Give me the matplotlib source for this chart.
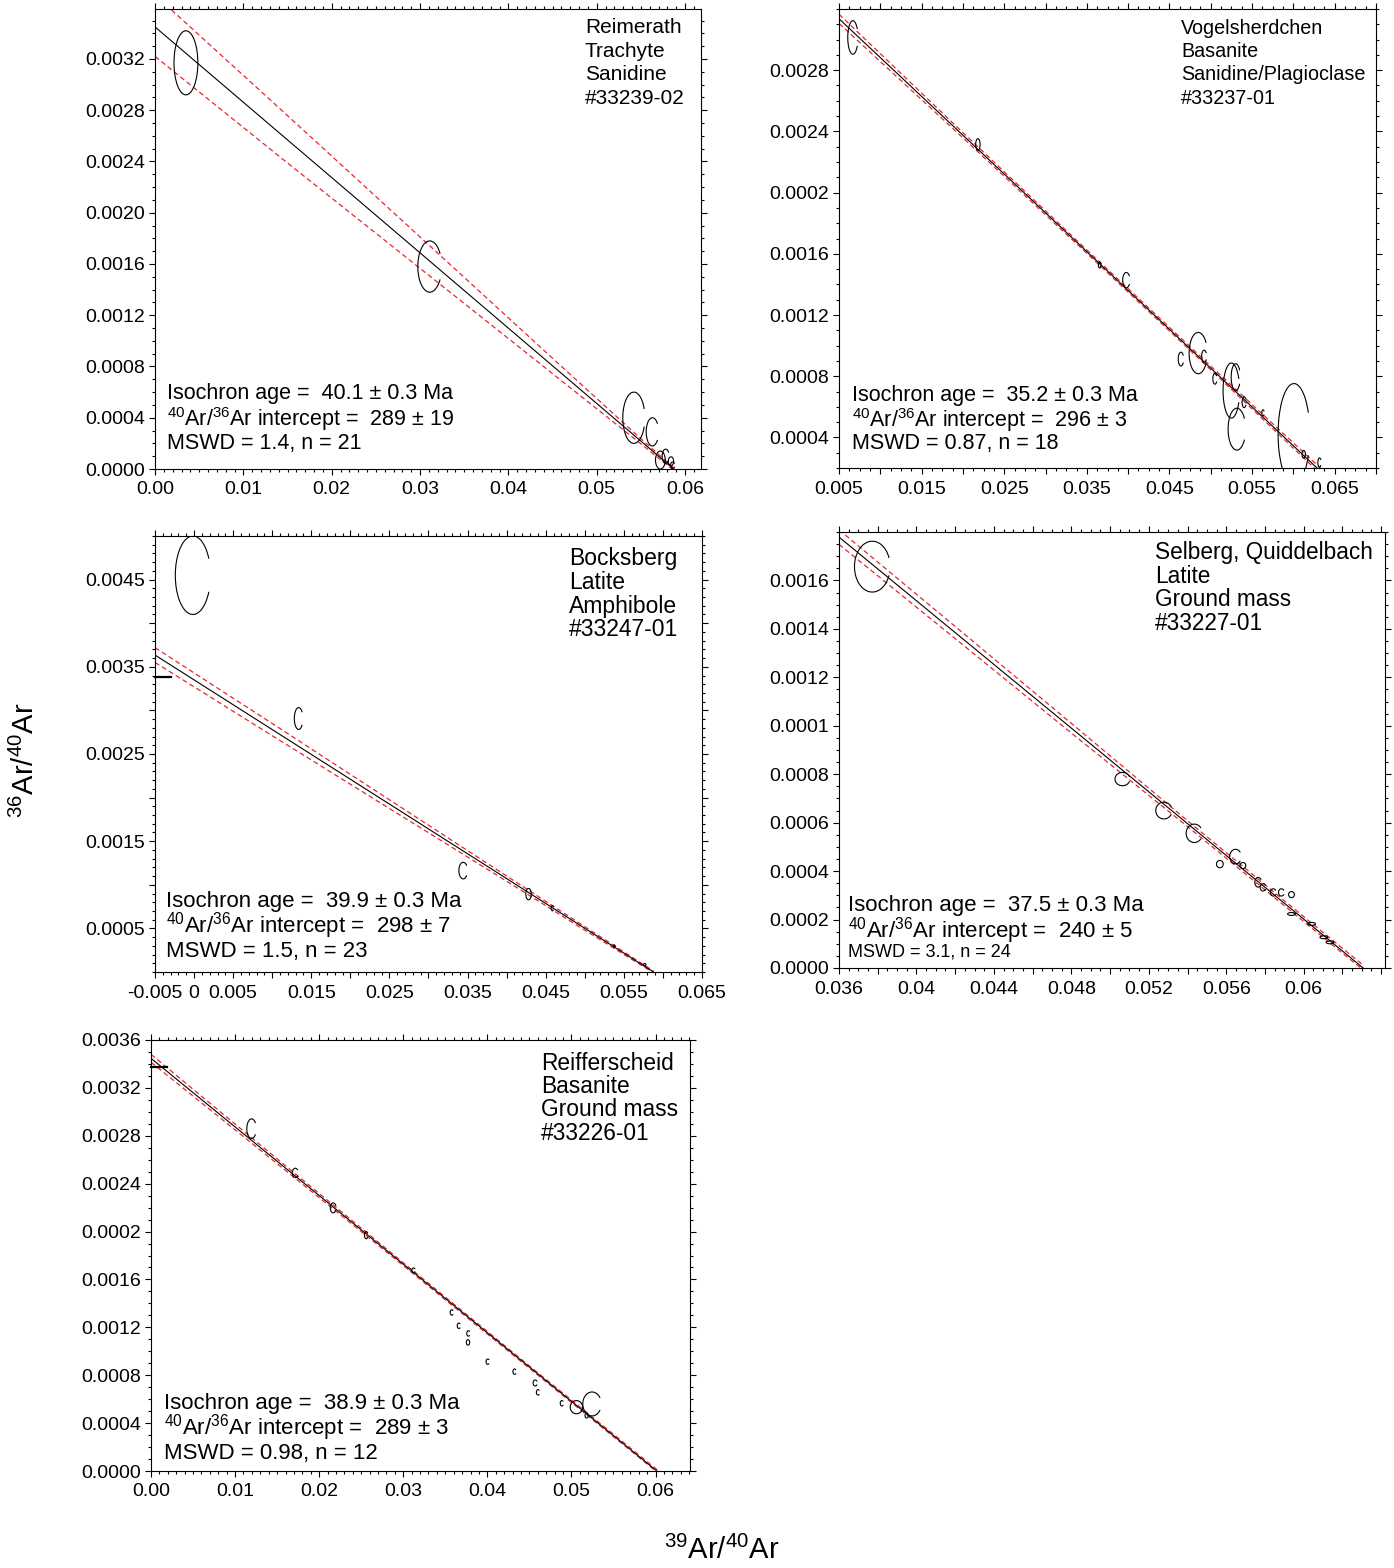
import matplotlib
matplotlib.use('Agg')
import numpy as np
import matplotlib.pyplot as plt
from matplotlib.patches import Arc
from matplotlib.ticker import FixedLocator, FixedFormatter, MultipleLocator

plt.rcParams['font.family'] = ['Liberation Sans', 'DejaVu Sans']
plt.rcParams['mathtext.fontset'] = 'custom'
plt.rcParams['mathtext.rm'] = 'Liberation Sans'
plt.rcParams['mathtext.it'] = 'Liberation Sans:italic'
plt.rcParams['mathtext.bf'] = 'Liberation Sans:bold'

W, H = 1394, 1568
RED = '#e8262a'

# ---- Reimerath, trachyte, sanidine ----
p1_name = ['Reimerath', 'Trachyte', 'Sanidine', '#33239-02']
p1_stats = ['Isochron age =  40.1 ± 0.3 Ma', '$^{40}$Ar/$^{36}$Ar intercept =  289 ± 19', 'MSWD = 1.4, n = 21']
p1_fit = (0.00345, 0.0587)          # y intercept, x intercept
p1_env_x = [0.0, 0.015, 0.03, 0.045, 0.055, 0.0587]
p1_env_hi = [0.00370, 0.002758, 0.001811, 0.000864, 0.000236, 0.00001]
p1_env_lo = [0.00322, 0.002388, 0.001566, 0.000744, 0.000196, -0.00001]
# x, y, width, height, half-opening on right (deg)
p1_ell = [(0.0035, 0.00317, 0.0027, 0.00050, 0),
          (0.0311, 0.00158, 0.0027, 0.00040, 30),
          (0.0542, 0.00040, 0.0025, 0.00040, 20),
          (0.0563, 0.00029, 0.0014, 0.00022, 35),
          (0.0572, 0.00007, 0.0011, 0.00014, 0),
          (0.0578, 0.00010, 0.0008, 0.00011, 30),
          (0.0584, 0.00006, 0.0006, 0.00007, 0),
          (0.0586, 0.00003, 0.0005, 0.00005, 30)]
p1_xticks = [0.0, 0.01, 0.02, 0.03, 0.04, 0.05, 0.06]
p1_xlabels = ['0.00', '0.01', '0.02', '0.03', '0.04', '0.05', '0.06']
p1_yticks = [0.0, 0.0004, 0.0008, 0.0012, 0.0016, 0.0020, 0.0024, 0.0028, 0.0032]
p1_ylabels = ['0.0000', '0.0004', '0.0008', '0.0012', '0.0016', '0.0020', '0.0024', '0.0028', '0.0032']

# ---- Vogelsherdchen, basanite ----
p2_name = ['Vogelsherdchen', 'Basanite', 'Sanidine/Plagioclase', '#33237-01']
p2_stats = ['Isochron age =  35.2 ± 0.3 Ma', '$^{40}$Ar/$^{36}$Ar intercept =  296 ± 3', 'MSWD = 0.87, n = 18']
p2_fit = (0.00339, 0.0668)
p2_env_x = [0.005, 0.02, 0.035, 0.05, 0.065]
p2_env_hi = [0.003166, 0.002392, 0.001625, 0.000866, 0.000113]
p2_env_lo = [0.003106, 0.002358, 0.001603, 0.000842, 0.000073]
p2_ell = [(0.00668, 0.003014, 0.00124, 0.000219, 30),
          (0.02181, 0.002314, 0.00053, 0.000077, 0),
          (0.03655, 0.001527, 0.00030, 0.000040, 0),
          (0.03978, 0.001428, 0.00088, 0.000100, 30),
          (0.04639, 0.000912, 0.00066, 0.000090, 30),
          (0.04848, 0.000951, 0.00220, 0.000270, 30),
          (0.04920, 0.000930, 0.00060, 0.000080, 30),
          (0.05050, 0.000783, 0.00050, 0.000070, 30),
          (0.05249, 0.000706, 0.00200, 0.000360, 25),
          (0.05302, 0.000794, 0.00110, 0.000175, 30),
          (0.05316, 0.000454, 0.00212, 0.000274, 30),
          (0.05404, 0.000630, 0.00050, 0.000070, 30),
          (0.05633, 0.000560, 0.00030, 0.000040, 30),
          (0.06007, 0.000422, 0.00384, 0.000660, 25),
          (0.06125, 0.000290, 0.00040, 0.000050, 0),
          (0.06316, 0.000236, 0.00040, 0.000060, 35)]
p2_xticks = [0.005, 0.01, 0.015, 0.02, 0.025, 0.03, 0.035, 0.04, 0.045, 0.05, 0.055, 0.06, 0.065, 0.07]
p2_xlabels = ['0.005', '', '0.015', '', '0.025', '', '0.035', '', '0.045', '', '0.055', '', '0.065', '']
p2_yticks = [0.0004, 0.0008, 0.0012, 0.0016, 0.0020, 0.0024, 0.0028]
p2_ylabels = ['0.0004', '0.0008', '0.0012', '0.0016', '0.0002', '0.0024', '0.0028']

# ---- Bocksberg, latite, amphibole ----
p3_name = ['Bocksberg', 'Latite', 'Amphibole', '#33247-01']
p3_stats = ['Isochron age =  39.9 ± 0.3 Ma', '$^{40}$Ar/$^{36}$Ar intercept =  298 ± 7', 'MSWD = 1.5, n = 23']
p3_fit = (0.00335, 0.0588)
p3_env_x = [-0.005, 0.01, 0.025, 0.04, 0.05, 0.0588]
p3_env_hi = [0.00372, 0.00285, 0.001975, 0.001101, 0.00052, 0.00001]
p3_env_lo = [0.00355, 0.00271, 0.001875, 0.001041, 0.00048, -0.00001]
p3_ell = [(-0.00015, 0.00455, 0.0045, 0.00090, 25),
          (0.01338, 0.002907, 0.0011, 0.00025, 35),
          (0.03444, 0.001163, 0.0011, 0.00019, 35),
          (0.04280, 0.000893, 0.0007, 0.00013, 0),
          (0.04586, 0.000731, 0.0003, 0.00006, 30),
          (0.05378, 0.000296, 0.0002, 0.00003, 0),
          (0.05768, 0.000083, 0.0003, 0.00003, 0)]
p3_xticks = [-0.005, 0.0, 0.005, 0.01, 0.015, 0.02, 0.025, 0.03, 0.035, 0.04, 0.045, 0.05, 0.055, 0.06, 0.065]
p3_xlabels = ['-0.005', '0', '0.005', '', '0.015', '', '0.025', '', '0.035', '', '0.045', '', '0.055', '', '0.065']
p3_yticks = [0.0005, 0.0010, 0.0015, 0.0020, 0.0025, 0.0030, 0.0035, 0.0040, 0.0045]
p3_ylabels = ['0.0005', '', '0.0015', '', '0.0025', '', '0.0035', '', '0.0045']
p3_atm = 0.003388

# ---- Selberg, Quiddelbach, latite ----
p4_name = ['Selberg, Quiddelbach', 'Latite', 'Ground mass', '#33227-01']
p4_stats = ['Isochron age =  37.5 ± 0.3 Ma', '$^{40}$Ar/$^{36}$Ar intercept =  240 ± 5', 'MSWD = 3.1, n = 24']
p4_fit = (0.004145, 0.06307)
p4_env_x = [0.036, 0.042, 0.048, 0.054, 0.06, 0.0631]
p4_env_hi = [0.001809, 0.00141, 0.00101, 0.000608, 0.000212, 0.00001]
p4_env_lo = [0.001749, 0.00136, 0.00097, 0.000584, 0.000192, -0.00001]
p4_ell = [(0.03772, 0.001657, 0.00184, 0.000210, 20),
          (0.05064, 0.000780, 0.00077, 0.000055, 20),
          (0.05278, 0.000650, 0.00084, 0.000069, 25),
          (0.05435, 0.000556, 0.00084, 0.000076, 35),
          (0.05567, 0.000429, 0.00035, 0.000030, 0),
          (0.05648, 0.000460, 0.00060, 0.000060, 35),
          (0.05686, 0.000423, 0.00030, 0.000025, 0),
          (0.05765, 0.000354, 0.00035, 0.000040, 30),
          (0.05790, 0.000333, 0.00030, 0.000030, 30),
          (0.05843, 0.000312, 0.00030, 0.000030, 30),
          (0.05885, 0.000312, 0.00030, 0.000030, 30),
          (0.05937, 0.000303, 0.00030, 0.000025, 0),
          (0.05937, 0.000223, 0.00040, 0.000012, 0),
          (0.06041, 0.000182, 0.00040, 0.000012, 0),
          (0.06104, 0.000127, 0.00040, 0.000012, 0),
          (0.06136, 0.000106, 0.00040, 0.000012, 0)]
p4_xticks = [0.036, 0.038, 0.04, 0.042, 0.044, 0.046, 0.048, 0.05, 0.052, 0.054, 0.056, 0.058, 0.06, 0.062, 0.064]
p4_xlabels = ['0.036', '', '0.04', '', '0.044', '', '0.048', '', '0.052', '', '0.056', '', '0.06', '', '']
p4_yticks = [0.0, 0.0002, 0.0004, 0.0006, 0.0008, 0.0010, 0.0012, 0.0014, 0.0016]
p4_ylabels = ['0.0000', '0.0002', '0.0004', '0.0006', '0.0008', '0.0001', '0.0012', '0.0014', '0.0016']

# ---- Reifferscheid, basanite ----
p5_name = ['Reifferscheid', 'Basanite', 'Ground mass', '#33226-01']
p5_stats = ['Isochron age =  38.9 ± 0.3 Ma', '$^{40}$Ar/$^{36}$Ar intercept =  289 ± 3', 'MSWD = 0.98, n = 12']
p5_fit = (0.003447, 0.06015)
p5_env_x = [0.0, 0.015, 0.03, 0.045, 0.0602]
p5_env_hi = [0.00348, 0.002607, 0.00174, 0.000878, 0.00001]
p5_env_lo = [0.003414, 0.002567, 0.001716, 0.000858, -0.00001]
p5_ell = [(0.01196, 0.002859, 0.00113, 0.000164, 35),
          (0.01716, 0.002490, 0.00070, 0.000078, 35),
          (0.02167, 0.002198, 0.00070, 0.000083, 20),
          (0.02559, 0.001970, 0.00040, 0.000060, 30),
          (0.03123, 0.001676, 0.00040, 0.000040, 30),
          (0.03578, 0.001324, 0.00040, 0.000045, 40),
          (0.03662, 0.001213, 0.00040, 0.000045, 40),
          (0.03775, 0.001149, 0.00040, 0.000045, 40),
          (0.03770, 0.001074, 0.00040, 0.000045, 0),
          (0.04005, 0.000913, 0.00040, 0.000045, 40),
          (0.04324, 0.000830, 0.00040, 0.000045, 40),
          (0.04569, 0.000735, 0.00050, 0.000050, 30),
          (0.04603, 0.000657, 0.00040, 0.000045, 40),
          (0.04887, 0.000566, 0.00040, 0.000045, 40),
          (0.05059, 0.000533, 0.00147, 0.000110, 0),
          (0.05245, 0.000560, 0.00220, 0.000200, 30),
          (0.05181, 0.000463, 0.00040, 0.000040, 0)]
p5_xticks = [0.0, 0.01, 0.02, 0.03, 0.04, 0.05, 0.06]
p5_xlabels = ['0.00', '0.01', '0.02', '0.03', '0.04', '0.05', '0.06']
p5_yticks = [0.0, 0.0004, 0.0008, 0.0012, 0.0016, 0.0020, 0.0024, 0.0028, 0.0032, 0.0036]
p5_ylabels = ['0.0000', '0.0004', '0.0008', '0.0012', '0.0016', '0.0002', '0.0024', '0.0028', '0.0032', '0.0036']
p5_atm = 0.003378


def px_rect(l, r, t, b):
    return [l / W, 1 - b / H, (r - l) / W, (b - t) / H]


def open_arc(x, y, w, h, g):
    # Arc stretches theta by w/h, so undo that to get the opening in ellipse parameter angle
    t = np.degrees(np.arctan(np.tan(np.radians(g)) * h / w)) if g > 0 else 0.0
    return Arc((x, y), w, h, theta1=t, theta2=360 - t, color='k', lw=0.8, zorder=4)


def panel(rect, xlim, ylim, xt, xl, xminor, yt, yl, yminor, fit, ex, ehi, elo, ells,
          name, name_pos, name_fs, stats, stats_pos, stats_fs, atm=None, small_mswd=False):
    ax = fig.add_axes(rect)
    ax.set_xlim(xlim)
    ax.set_ylim(ylim)
    # isochron and its error envelope
    a, xint = fit
    ax.plot([xlim[0], xint], [a * (1 - xlim[0] / xint), 0.0], color='k', lw=0.8, zorder=3)
    ax.plot(ex, ehi, color=RED, lw=0.9, dashes=(4, 2.5), zorder=2)
    ax.plot(ex, elo, color=RED, lw=0.9, dashes=(4, 2.5), zorder=2)
    # error ellipses, most drawn open on the right
    for (x, y, w, h, g) in ells:
        ax.add_patch(open_arc(x, y, w, h, g))
    if atm is not None:
        ax.plot([0, 0.03], [atm, atm], color='k', lw=1.6,
                transform=ax.get_yaxis_transform(), clip_on=False, zorder=5)
    ax.xaxis.set_major_locator(FixedLocator(xt))
    ax.xaxis.set_major_formatter(FixedFormatter(xl))
    ax.xaxis.set_minor_locator(MultipleLocator(xminor))
    ax.yaxis.set_major_locator(FixedLocator(yt))
    ax.yaxis.set_major_formatter(FixedFormatter(yl))
    ax.yaxis.set_minor_locator(MultipleLocator(yminor))
    ax.tick_params(which='both', direction='out', top=True, right=True, width=0.8)
    ax.tick_params(which='major', length=4, labelsize=14)
    ax.tick_params(axis='x', which='major', pad=5)
    ax.tick_params(axis='y', which='major', pad=3)
    ax.tick_params(which='minor', length=2)
    for s in ax.spines.values():
        s.set_linewidth(0.8)
    dx, dy = name_pos
    for i, t in enumerate(name):
        ax.annotate(t, xy=(1, 1), xycoords='axes fraction', xytext=(dx, dy - i * 23.5),
                    textcoords='offset pixels', ha='left', va='center', fontsize=name_fs)
    sx, sy = stats_pos
    for i, t in enumerate(stats):
        fs = 13 if (small_mswd and i == 2) else stats_fs
        ax.annotate(t, xy=(0, 0), xycoords='axes fraction', xytext=(sx, sy[i]),
                    textcoords='offset pixels', ha='left', va='center', fontsize=fs)
    return ax


fig = plt.figure(figsize=(W / 100, H / 100), dpi=100)

panel(px_rect(155, 701, 9, 469), (0, 0.0618), (0, 0.00359), p1_xticks, p1_xlabels, 0.001,
      p1_yticks, p1_ylabels, 0.0001, p1_fit, p1_env_x, p1_env_hi, p1_env_lo, p1_ell,
      p1_name, (-116, -19), 15, p1_stats, (12, [75, 50, 26]), 15.5)
panel(px_rect(839, 1376, 9, 468), (0.005, 0.070), (0.0002, 0.0032), p2_xticks, p2_xlabels, 0.00125,
      p2_yticks, p2_ylabels, 0.0001, p2_fit, p2_env_x, p2_env_hi, p2_env_lo, p2_ell,
      p2_name, (-195, -19), 14.2, p2_stats, (13, [73, 48, 25]), 15.5)
panel(px_rect(155, 702, 536, 972), (-0.005, 0.065), (0, 0.005), p3_xticks, p3_xlabels, 0.001,
      p3_yticks, p3_ylabels, 0.0001, p3_fit, p3_env_x, p3_env_hi, p3_env_lo, p3_ell,
      p3_name, (-133, -23), 16.5, p3_stats, (11, [71, 46, 21]), 16, atm=p3_atm)
panel(px_rect(839, 1385, 532, 968), (0.036, 0.0642), (0, 0.0018), p4_xticks, p4_xlabels, 0.0005,
      p4_yticks, p4_ylabels, 0.00005, p4_fit, p4_env_x, p4_env_hi, p4_env_lo, p4_ell,
      p4_name, (-230, -21), 16.3, p4_stats, (9, [62, 37, 16]), 16, small_mswd=True)
panel(px_rect(151, 690, 1040, 1471), (0, 0.0641), (0, 0.0036), p5_xticks, p5_xlabels, 0.001,
      p5_yticks, p5_ylabels, 0.0001, p5_fit, p5_env_x, p5_env_hi, p5_env_lo, p5_ell,
      p5_name, (-149, -23), 16.4, p5_stats, (13, [68, 43, 18]), 16, atm=p5_atm)

fig.text(25 / W, 1 - 760 / H, '$^{36}$Ar/$^{40}$Ar', rotation=90, fontsize=21, ha='center', va='center')
fig.text(722 / W, 1 - 1550 / H, '$^{39}$Ar/$^{40}$Ar', fontsize=21, ha='center', va='center')

fig.savefig('out.png', dpi=100)
